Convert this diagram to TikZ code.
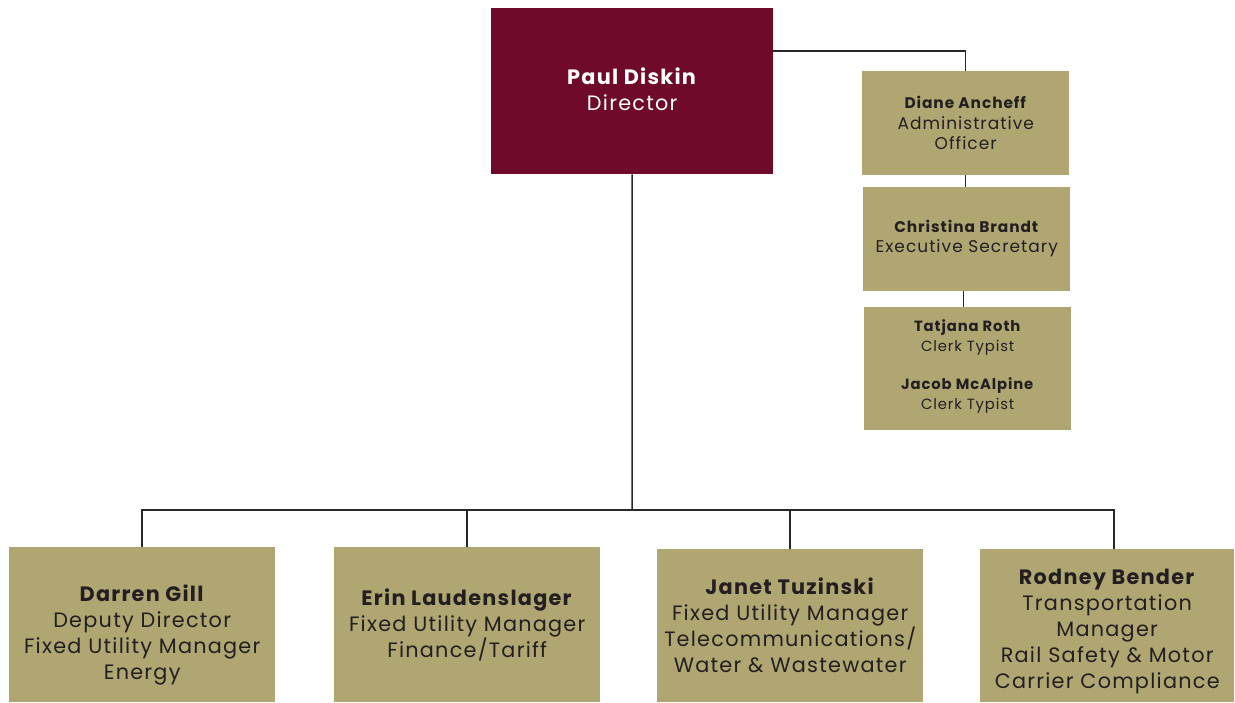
\documentclass[tikz,border=0pt]{standalone}
\usepackage{fontspec}
\setmainfont{Poppins}[LetterSpace=6]
\usetikzlibrary{positioning}
\definecolor{dirRed}{RGB}{111,10,41}
\definecolor{boxTan}{RGB}{176,166,113}
\definecolor{txtDark}{RGB}{35,31,32}
\definecolor{lnGray}{RGB}{40,40,40}
\tikzset{
  unit/.style={rectangle, fill=boxTan, text=txtDark, align=center,
    inner sep=0pt, anchor=north west},
  dirN/.style={unit, fill=dirRed, text=white, minimum width=282pt,
    minimum height=166pt, font=\fontsize{20.8}{26}\selectfont},
  staffN/.style={unit, minimum width=207pt, minimum height=104pt,
    font=\fontsize{17}{20.5}\selectfont},
  mgrN/.style={unit, minimum width=266pt, minimum height=155pt,
    font=\fontsize{20.8}{26}\selectfont},
  link/.style={draw=lnGray, line width=1.5pt},
}

\begin{document}
\begin{tikzpicture}[x=1pt, y=-1pt]
\useasboundingbox (0,0) rectangle (1235,703);

%% ── DIRECTOR ─────────────────────────────────────────────
\node[dirN] (dir) at (491,8)
  {\textbf{Paul Diskin}\\Director\\[-22pt]\mbox{}};

%% ── OFFICE STAFF ─────────────────────────────────────────
\node[staffN] (da) at (862,71)
  {\textbf{\fontsize{15.4}{20.5}\selectfont Diane Ancheff}\\Administrative\\Officer};
\node[staffN] (cb) at (863,187)
  {\textbf{\fontsize{15.4}{20.5}\selectfont Christina Brandt}\\Executive Secretary\\[-14.5pt]\mbox{}};
\node[staffN, minimum height=123pt, font=\fontsize{14.8}{20}\selectfont] (tr) at (864,307)
  {\textbf{Tatjana Roth}\\Clerk Typist\\[18pt]\textbf{Jacob McAlpine}\\Clerk Typist\\[-12pt]\mbox{}};

\draw[link] ([yshift=-43pt]dir.north east) -| (da.north);
\draw[link] (da.south) -- (da.south |- cb.north);
\draw[link] ([xshift=-3pt]cb.south) -- ([xshift=-3pt]cb.south |- tr.north);

%% ── MANAGERS ─────────────────────────────────────────────
\node[mgrN] (dg) at (9,547)
  {\mbox{}\\[12pt]\textbf{Darren Gill}\\Deputy Director\\Fixed Utility Manager\\Energy};
\node[mgrN] (el) at (334,547)
  {\textbf{Erin Laudenslager}\\Fixed Utility Manager\\Finance/Tariff};
\node[mgrN, minimum height=153pt] (jt) at (657,549)
  {\textbf{Janet Tuzinski}\\Fixed Utility Manager\\Telecommunications/\\Water \& Wastewater};
\node[mgrN, minimum width=254pt, minimum height=153pt] (rb) at (980,549)
  {\mbox{}\\[2pt]\textbf{Rodney Bender}\\Transportation\\Manager\\Rail Safety \& Motor\\Carrier Compliance};

\coordinate (bus) at (632,510);
\draw[link] (dir.south) -- (bus);
\draw[link] (dg.north) |- (bus) -| ([xshift=7pt]rb.north);
\draw[link] (el.north) -- (el.north |- bus);
\draw[link] (jt.north) -- (jt.north |- bus);

\end{tikzpicture}
\end{document}
